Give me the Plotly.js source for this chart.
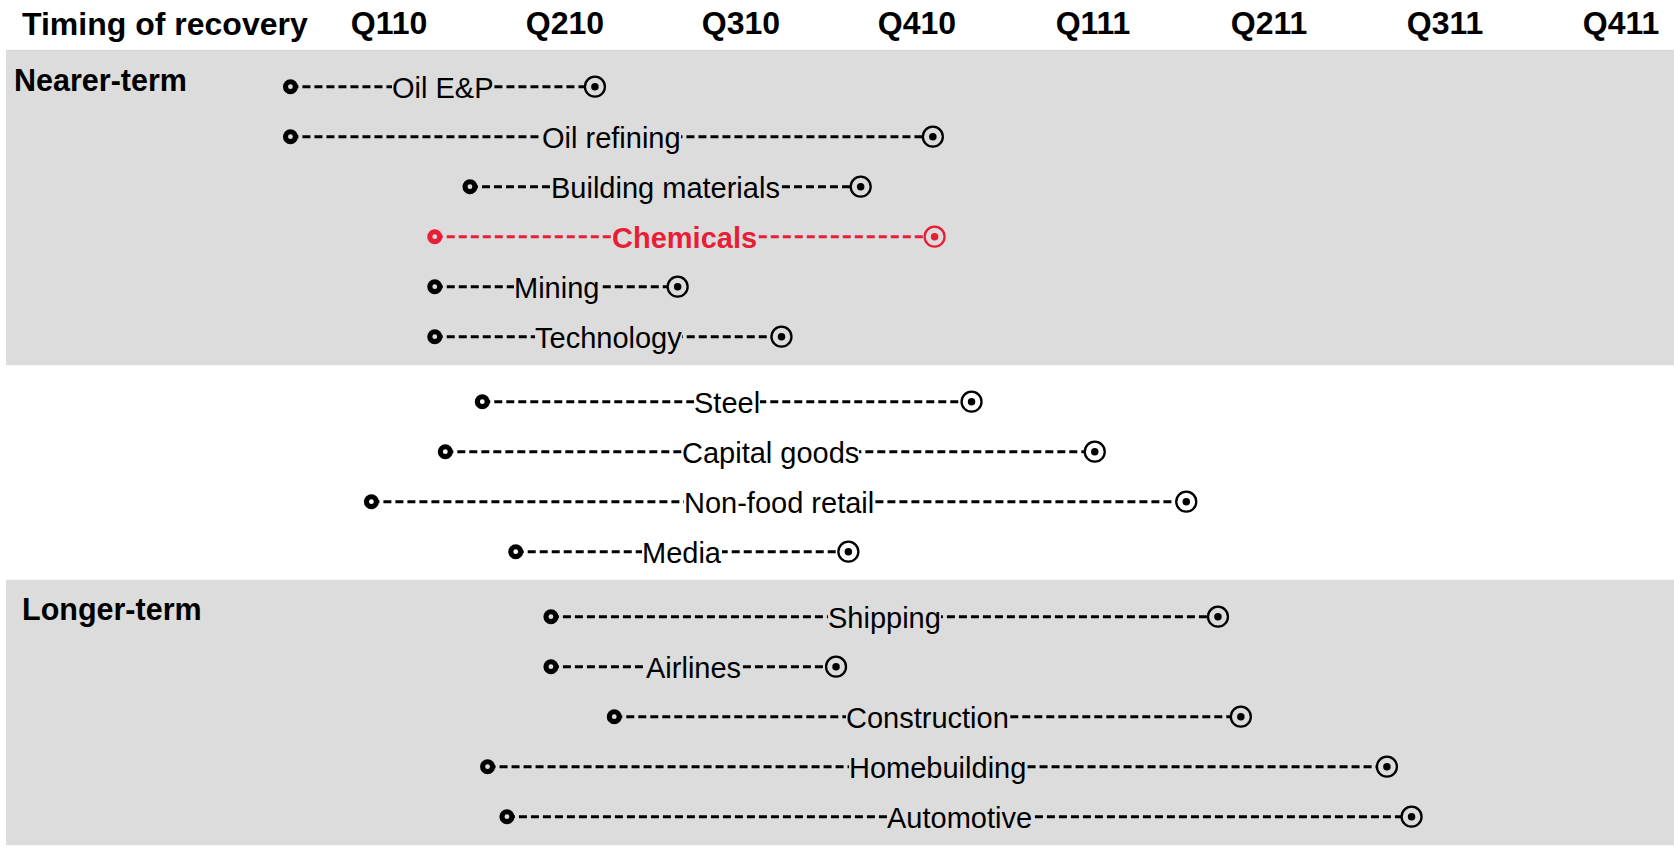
<!DOCTYPE html>
<html><head><meta charset="utf-8">
<script src="https://cdn.plot.ly/plotly-3.0.1.min.js"></script>
<style>html,body{margin:0;padding:0;background:#fff;} #chart{width:1674px;height:849px;}</style>
</head><body><div id="chart"></div>
<script>
// ---- data ----
const quarterLabels = ['Q110','Q210','Q310','Q410','Q111','Q211','Q311','Q411'];
const quarterIndex  = [0,1,2,3,4,5,6,7];
const sectors = ['Oil E&P','Oil refining','Building materials','Chemicals','Mining','Technology',
                 'Steel','Capital goods','Non-food retail','Media',
                 'Shipping','Airlines','Construction','Homebuilding','Automotive'];
const sectorGroup = [0,0,0,0,0,0, 1,1,1,1, 2,2,2,2,2];
const groupNames = ['Nearer-term','','Longer-term'];
// recovery window, in quarters after Q110
const recoveryStart = [-0.56,-0.56,0.46,0.26,0.26,0.26, 0.53,0.32,-0.10,0.72, 0.92,0.92,1.28,0.56,0.67];
const recoveryEnd   = [1.17,3.09,2.68,3.10,1.64,2.23, 3.31,4.01,4.53,2.61, 4.71,2.54,4.84,5.67,5.81];
const highlighted = 'Chemicals';

// ---- styling ----
const GRAY = '#dcdcdc', RED = '#e81e36', BLACK = '#000000';
const FONT = 'Liberation Sans, Arial, sans-serif';
const groupGap = 0.3;
const rowY = sectors.map((s,i)=> i + sectorGroup[i]*groupGap);
const groupBg = g => (g === 1 ? '#ffffff' : GRAY);
const rowColor = sectors.map(s => s === highlighted ? RED : BLACK);
const rowBg = sectorGroup.map(groupBg);

const traces = [];
sectors.forEach((s,i)=>{
  traces.push({
    type:'scatter', mode:'lines',
    x:[recoveryStart[i], recoveryEnd[i]], y:[rowY[i], rowY[i]],
    line:{color:rowColor[i], width:3, dash:'8px,4px'},
    hoverinfo:'skip', showlegend:false, cliponaxis:false
  });
});
const mk = (x, size, color, lineColor, lineWidth) => ({
  type:'scatter', mode:'markers', x:x, y:rowY,
  marker:{symbol:'circle', size:size, color:color, line:{color:lineColor, width:lineWidth}},
  hoverinfo:'skip', showlegend:false, cliponaxis:false
});
// start markers: thick ring (solid disc + hole)
traces.push(mk(recoveryStart, 15, rowColor, rowColor, 0));
traces.push(mk(recoveryStart, 4.8, rowBg, rowBg, 0));
// end markers: thin ring with centre dot
traces.push(mk(recoveryEnd, 20, rowBg, rowColor, 2.3));
traces.push(mk(recoveryEnd, 7.5, rowColor, rowColor, 0));

const annotations = sectors.map((s,i)=>({
  x:(recoveryStart[i]+recoveryEnd[i])/2, y:rowY[i], xref:'x', yref:'y', yshift:-1,
  text: s===highlighted ? '<b>'+s+'</b>' : s, showarrow:false,
  font:{family:FONT, size:29, color:rowColor[i]},
  bgcolor: rowBg[i], borderpad:0, borderwidth:0, xanchor:'center', yanchor:'middle'
}));
annotations.push({
  x:20/1674, y:(849-24)/800, xref:'paper', yref:'paper', xanchor:'left', yanchor:'middle',
  text:'<b>Timing of recovery</b>', showarrow:false, font:{family:FONT, size:32, color:BLACK}
});
const groupLabelX = [12, 0, 20];
groupNames.forEach((g,k)=>{
  if(!g) return;
  const first = rowY[sectorGroup.indexOf(k)];
  annotations.push({
    x:groupLabelX[k]/1674, y:first - 0.14, xref:'paper', yref:'y', xanchor:'left', yanchor:'middle',
    text:'<b>'+g+'</b>', showarrow:false, font:{family:FONT, size:30.5, color:BLACK}
  });
});

const shapes = [0,2].map(k=>{
  const ys = rowY.filter((y,i)=>sectorGroup[i]===k);
  return {type:'rect', xref:'paper', yref:'y', x0:6/1674, x1:1,
          y0:Math.min(...ys)-0.74, y1:Math.max(...ys)+0.57,
          fillcolor:GRAY, line:{width:0}, layer:'below'};
});

const layout = {
  width:1674, height:849,
  margin:{l:0, r:0, t:49, b:0, pad:0},
  paper_bgcolor:'#ffffff', plot_bgcolor:'#ffffff',
  xaxis:{range:[-389/176, (1674-389)/176], side:'top', tickvals:quarterIndex, ticktext:quarterLabels,
         tickfont:{family:FONT, size:32, color:BLACK, weight:'bold'}, ticks:'', showgrid:false,
         ticklabelstandoff:8, zeroline:false, showline:false, fixedrange:true},
  yaxis:{range:[15.246,-0.754], visible:false, fixedrange:true},
  shapes:shapes, annotations:annotations, showlegend:false, hovermode:false
};
Plotly.newPlot('chart', traces, layout, {staticPlot:true, displayModeBar:false});
</script></body></html>
